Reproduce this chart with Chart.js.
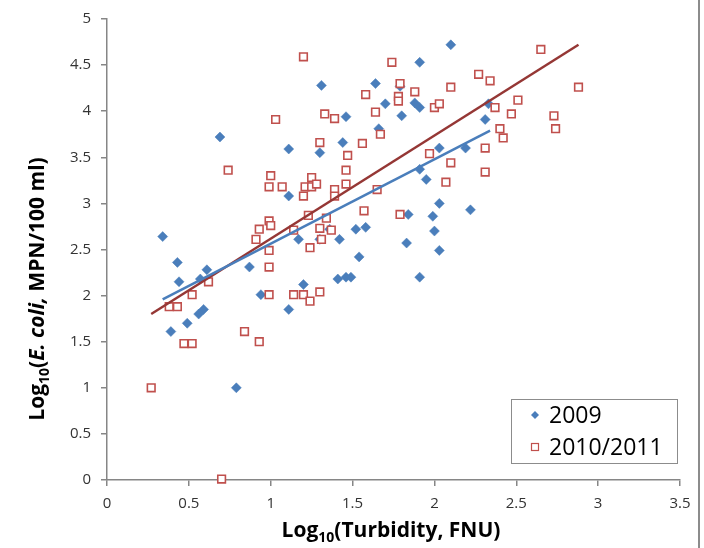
<!DOCTYPE html>
<html>
<head>
<meta charset="utf-8">
<script src="https://cdn.jsdelivr.net/npm/chart.js@4.4.1/dist/chart.umd.min.js"></script>
<style>
  html, body { margin: 0; padding: 0; background: #fff; }
</style>
</head>
<body>
<canvas id="ecoliChart" width="704" height="548"></canvas>
<script>
// 2009 samples (log10 turbidity, log10 E. coli)
const x2009 = [0.34, 0.43, 0.44, 0.39, 0.49, 0.56, 0.59, 0.57, 0.61, 0.69,
               0.79, 0.87, 0.94, 1.11, 1.11, 1.11, 1.17, 1.20, 1.30, 1.30,
               1.31, 1.36, 1.41, 1.42, 1.44, 1.46, 1.46, 1.49, 1.52, 1.54,
               1.58, 1.64, 1.66, 1.70, 1.79, 1.80, 1.83, 1.84, 1.88, 1.91,
               1.91, 1.91, 1.91, 1.95, 1.99, 2.00, 2.03, 2.03, 2.03, 2.10,
               2.19, 2.22, 2.31, 2.33];
const y2009 = [2.64, 2.36, 2.15, 1.61, 1.70, 1.80, 1.85, 2.18, 2.28, 3.72,
               1.00, 2.31, 2.01, 3.59, 3.08, 1.85, 2.61, 2.12, 2.61, 3.55,
               4.28, 2.72, 2.18, 2.61, 3.66, 2.20, 3.94, 2.20, 2.72, 2.42,
               2.74, 4.30, 3.81, 4.08, 4.27, 3.95, 2.57, 2.88, 4.09, 4.04,
               4.53, 3.37, 2.20, 3.26, 2.86, 2.70, 3.60, 3.00, 2.49, 4.72,
               3.60, 2.93, 3.91, 4.08];

// 2010/2011 samples
const x2010 = [0.27, 0.38, 0.43, 0.47, 0.52, 0.52, 0.62, 0.70, 0.74, 0.84,
               0.91, 0.93, 0.93, 0.99, 1.00, 0.99, 0.99, 0.99, 1.00, 0.99,
               1.03, 1.07, 1.14, 1.14, 1.20, 1.20, 1.20, 1.21, 1.23, 1.24,
               1.24, 1.25, 1.25, 1.28, 1.30, 1.30, 1.30, 1.31, 1.33, 1.34,
               1.37, 1.39, 1.39, 1.39, 1.46, 1.46, 1.47, 1.56, 1.57, 1.58,
               1.64, 1.65, 1.67, 1.74, 1.78, 1.78, 1.79, 1.79, 1.88, 1.97,
               2.00, 2.03, 2.07, 2.10, 2.10, 2.27, 2.31, 2.31, 2.34, 2.37,
               2.40, 2.42, 2.47, 2.51, 2.65, 2.73, 2.74, 2.88];
const y2010 = [1.00, 1.88, 1.88, 1.48, 1.48, 2.01, 2.15, 0.01, 3.36, 1.61,
               2.61, 2.72, 1.50, 2.81, 2.76, 2.49, 2.31, 2.01, 3.30, 3.18,
               3.91, 3.18, 2.71, 2.01, 2.01, 3.08, 4.59, 3.18, 2.87, 1.94,
               2.52, 3.28, 3.18, 3.21, 2.73, 2.04, 3.66, 2.61, 3.97, 2.84,
               2.71, 3.92, 3.15, 3.08, 3.36, 3.21, 3.52, 3.65, 2.92, 4.18,
               3.99, 3.15, 3.75, 4.53, 4.16, 4.11, 4.30, 2.88, 4.21, 3.54,
               4.04, 4.08, 3.23, 4.26, 3.44, 4.40, 3.60, 3.34, 4.33, 4.04,
               3.81, 3.71, 3.97, 4.12, 4.67, 3.95, 3.81, 4.26];

// linear trend line end points
const trendX2009 = [0.34, 2.34];
const trendY2009 = [1.96, 3.79];
const trendX2010 = [0.27, 2.88];
const trendY2010 = [1.80, 4.72];

const seriesNames = ['2009', '2010/2011'];

const BLUE = '#4A7EBB';
const RED = '#C0504D';
const AXIS = '#868686';
const FONT = '"Open Sans", sans-serif';

function pts(xs, ys) {
    return xs.map((x, i) => ({ x: x, y: ys[i] }));
}

// axis titles with subscript and italic parts
function drawRich(ctx, parts, cx, cy, angle) {
    ctx.save();
    ctx.translate(cx, cy);
    ctx.rotate(angle);
    let total = 0;
    parts.forEach(p => {
        ctx.font = p.font;
        p.w = ctx.measureText(p.text).width;
        total += p.w;
    });
    let x = -total / 2;
    ctx.textBaseline = 'alphabetic';
    ctx.textAlign = 'left';
    ctx.fillStyle = '#000';
    parts.forEach(p => {
        ctx.font = p.font;
        ctx.fillText(p.text, x, p.dy || 0);
        x += p.w;
    });
    ctx.restore();
}

const titleBold = 'bold 21px ' + FONT;
const titleSub = 'bold 14px ' + FONT;
const titleItal = 'italic bold 21px ' + FONT;

const extrasPlugin = {
    id: 'extras',
    afterDraw(chart) {
        const ctx = chart.ctx;

        // x title
        drawRich(ctx, [
            { text: 'Log', font: titleBold },
            { text: '10', font: titleSub, dy: 5 },
            { text: '(Turbidity, FNU)', font: titleBold }
        ], 391, 537, 0);

        // y title
        drawRich(ctx, [
            { text: 'Log', font: titleBold },
            { text: '10', font: titleSub, dy: 5 },
            { text: '(', font: titleBold },
            { text: 'E. coli,', font: titleItal },
            { text: ' MPN/100 ml)', font: titleBold }
        ], 44, 289, -Math.PI / 2);

        // legend box inside plot area
        const lx = 511, ly = 399, lw = 166, lh = 64;
        ctx.save();
        ctx.fillStyle = '#fff';
        ctx.fillRect(lx, ly, lw, lh);
        ctx.strokeStyle = '#8C8C8C';
        ctx.lineWidth = 1;
        ctx.strokeRect(lx + 0.5, ly + 0.5, lw, lh);
        ctx.font = '23px ' + FONT;
        ctx.textBaseline = 'middle';
        const rows = [ly + 16, ly + 48];
        // diamond
        ctx.fillStyle = BLUE;
        ctx.beginPath();
        ctx.moveTo(535, rows[0] - 4);
        ctx.lineTo(539, rows[0]);
        ctx.lineTo(535, rows[0] + 4);
        ctx.lineTo(531, rows[0]);
        ctx.closePath();
        ctx.fill();
        // square
        ctx.strokeStyle = RED;
        ctx.lineWidth = 1.2;
        ctx.strokeRect(531.5, rows[1] - 3.5, 7, 7);
        ctx.fillStyle = '#000';
        ctx.fillText(seriesNames[0], 549, rows[0] + 1);
        ctx.fillText(seriesNames[1], 549, rows[1] + 1);
        ctx.restore();

        // frame edge on the right
        ctx.save();
        ctx.strokeStyle = '#8C8C8C';
        ctx.lineWidth = 2;
        ctx.beginPath();
        ctx.moveTo(699, 0);
        ctx.lineTo(699, 548);
        ctx.stroke();
        ctx.restore();
    }
};

const ctx = document.getElementById('ecoliChart');

new Chart(ctx, {
    type: 'scatter',
    data: {
        datasets: [
            {
                label: seriesNames[0] + ' trend',
                data: pts(trendX2009, trendY2009),
                showLine: true,
                borderColor: BLUE,
                borderWidth: 2.5,
                pointRadius: 0,
                order: 0
            },
            {
                label: seriesNames[1] + ' trend',
                data: pts(trendX2010, trendY2010),
                showLine: true,
                borderColor: '#953735',
                borderWidth: 2.5,
                pointRadius: 0,
                order: 0
            },
            {
                label: seriesNames[0],
                data: pts(x2009, y2009),
                pointStyle: 'rectRot',
                pointRadius: 5,
                backgroundColor: BLUE,
                borderColor: BLUE,
                borderWidth: 0.5,
                clip: false,
                order: 2
            },
            {
                label: seriesNames[1],
                data: pts(x2010, y2010),
                pointStyle: 'rect',
                pointRadius: 5.4,
                backgroundColor: '#fff',
                borderColor: RED,
                borderWidth: 1.6,
                clip: false,
                order: 1
            }
        ]
    },
    options: {
        responsive: false,
        animation: false,
        devicePixelRatio: 1,
        layout: {
            padding: { top: 15, right: 24, left: 0, bottom: 0 }
        },
        plugins: {
            legend: { display: false },
            tooltip: { enabled: false }
        },
        scales: {
            x: {
                type: 'linear',
                min: 0,
                max: 3.5,
                ticks: {
                    stepSize: 0.5,
                    padding: 9,
                    color: '#333',
                    font: { family: FONT, size: 15 },
                    callback: v => String(v)
                },
                grid: {
                    drawOnChartArea: false,
                    tickLength: 6,
                    color: AXIS,
                    lineWidth: 1.5
                },
                border: { color: AXIS, width: 1.5 },
                afterFit(scale) { scale.height = 68; }
            },
            y: {
                type: 'linear',
                min: 0,
                max: 5,
                ticks: {
                    stepSize: 0.5,
                    padding: 10,
                    color: '#333',
                    font: { family: FONT, size: 15 },
                    callback: v => String(v)
                },
                grid: {
                    drawOnChartArea: false,
                    tickLength: 6,
                    color: AXIS,
                    lineWidth: 1.5
                },
                border: { color: AXIS, width: 1.5 },
                afterFit(scale) { scale.width = 107; }
            }
        }
    },
    plugins: [extrasPlugin]
});
</script>
</body>
</html>
